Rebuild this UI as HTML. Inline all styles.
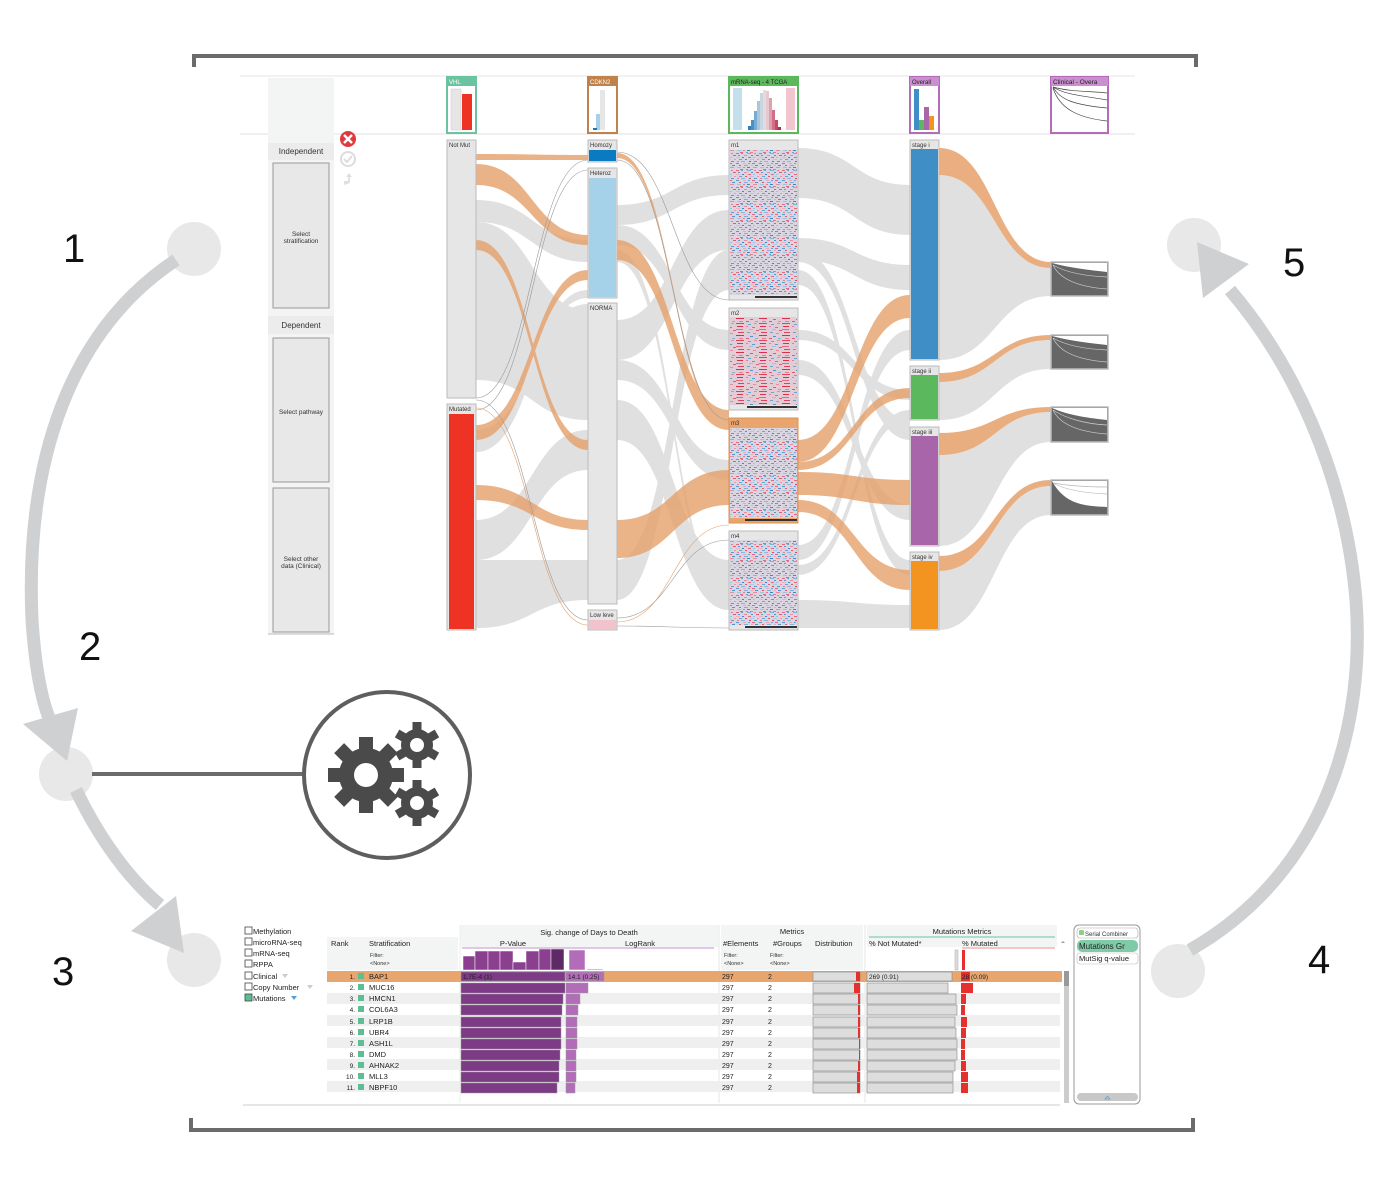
<!DOCTYPE html>
<html><head><meta charset="utf-8"><style>
html,body{margin:0;padding:0;background:#fff}
svg{display:block;font-family:"Liberation Sans",Arial,sans-serif}
</style></head><body>
<svg width="1381" height="1195" viewBox="0 0 1381 1195" xmlns="http://www.w3.org/2000/svg">
<defs>
<pattern id="hm" width="23" height="17" patternUnits="userSpaceOnUse">
<rect width="23" height="17" fill="#d9d6e2"/>
<rect x="0" y="0" width="3" height="1" fill="#e36a7e"/><rect x="5" y="0" width="2" height="1" fill="#6aa5d6"/><rect x="11" y="0" width="4" height="1" fill="#7fb2da"/><rect x="18" y="0" width="2" height="1" fill="#e77d8e"/>
<rect x="2" y="2" width="2" height="1" fill="#5a9bd0"/><rect x="8" y="2" width="3" height="1" fill="#ea8d9b"/><rect x="15" y="2" width="2" height="1" fill="#4f93cc"/><rect x="20" y="2" width="3" height="1" fill="#e05a70"/>
<rect x="0" y="4" width="4" height="1" fill="#f1b0bb"/><rect x="6" y="4" width="2" height="1" fill="#3f88c5"/><rect x="12" y="4" width="3" height="1" fill="#e36a7e"/><rect x="17" y="4" width="2" height="1" fill="#9cc3e2"/>
<rect x="3" y="6" width="3" height="1" fill="#6aa5d6"/><rect x="9" y="6" width="2" height="1" fill="#e05a70"/><rect x="14" y="6" width="4" height="1" fill="#a9cbe5"/><rect x="21" y="6" width="2" height="1" fill="#ec95a3"/>
<rect x="1" y="8" width="2" height="1" fill="#e77d8e"/><rect x="5" y="8" width="4" height="1" fill="#8ab9dd"/><rect x="13" y="8" width="2" height="1" fill="#d94a62"/><rect x="18" y="8" width="3" height="1" fill="#5a9bd0"/>
<rect x="0" y="10" width="3" height="1" fill="#5a9bd0"/><rect x="7" y="10" width="3" height="1" fill="#f0a6b2"/><rect x="12" y="10" width="2" height="1" fill="#6aa5d6"/><rect x="16" y="10" width="3" height="1" fill="#e36a7e"/>
<rect x="3" y="12" width="2" height="1" fill="#e05a70"/><rect x="8" y="12" width="4" height="1" fill="#7fb2da"/><rect x="15" y="12" width="2" height="1" fill="#f0a6b2"/><rect x="19" y="12" width="3" height="1" fill="#4f93cc"/>
<rect x="1" y="14" width="4" height="1" fill="#9cc3e2"/><rect x="7" y="14" width="2" height="1" fill="#e77d8e"/><rect x="11" y="14" width="3" height="1" fill="#3f88c5"/><rect x="17" y="14" width="4" height="1" fill="#ea8d9b"/>
<rect x="4" y="16" width="3" height="1" fill="#e36a7e"/><rect x="10" y="16" width="2" height="1" fill="#6aa5d6"/><rect x="14" y="16" width="3" height="1" fill="#e77d8e"/>
</pattern>
<pattern id="hm2" width="23" height="17" patternUnits="userSpaceOnUse">
<rect width="23" height="17" fill="#e2cdd6"/>
<rect x="0" y="0" width="8" height="1" fill="#e0415c"/><rect x="12" y="1" width="3" height="1" fill="#6aa5d6"/><rect x="18" y="0" width="3" height="1" fill="#ea8d9b"/>
<rect x="1" y="3" width="6" height="1" fill="#d9304c"/><rect x="10" y="3" width="2" height="1" fill="#e77d8e"/><rect x="16" y="4" width="3" height="1" fill="#5a9bd0"/>
<rect x="0" y="6" width="7" height="1" fill="#e36a7e"/><rect x="13" y="6" width="4" height="1" fill="#9cc3e2"/><rect x="20" y="7" width="3" height="1" fill="#e05a70"/>
<rect x="2" y="9" width="6" height="1" fill="#e0415c"/><rect x="11" y="9" width="3" height="1" fill="#6aa5d6"/><rect x="17" y="10" width="3" height="1" fill="#ea8d9b"/>
<rect x="0" y="12" width="8" height="1" fill="#d9304c"/><rect x="14" y="13" width="3" height="1" fill="#4f93cc"/>
<rect x="3" y="15" width="4" height="1" fill="#e77d8e"/><rect x="10" y="15" width="3" height="1" fill="#e05a70"/><rect x="19" y="15" width="3" height="1" fill="#7fb2da"/>
</pattern>
</defs>

<!-- brackets -->
<path d="M194,67 V56 H1196 V67" fill="none" stroke="#6b6b6b" stroke-width="4"/>
<path d="M191,1118 V1130 H1193 V1118" fill="none" stroke="#6b6b6b" stroke-width="4"/>

<!-- cycle arcs -->
<g fill="#e8e8e8">
<ellipse cx="194" cy="249" rx="27" ry="27"/>
<ellipse cx="66" cy="774" rx="27" ry="27"/>
<ellipse cx="194" cy="960" rx="27" ry="27"/>
<ellipse cx="1194" cy="245" rx="27" ry="27"/>
<ellipse cx="1178" cy="971" rx="27" ry="27"/>
</g>
<g fill="none" stroke="#cfd0d2" stroke-width="13">
<path d="M176,260 C70,330 25,460 32,620 C36,680 45,710 52,725"/>
<path d="M76,790 C100,840 130,880 160,905"/>
<path d="M1190,950 C1330,870 1365,720 1356,600 C1345,470 1290,360 1230,290"/>
</g>
<g fill="#cfd0d2">
<path d="M23,724 L78,708 L67,761 Z"/>
<path d="M131,931 L176,896 L184,953 Z"/>
<path d="M1203,298 L1249,264 L1197,242 Z"/>
</g>
<line x1="92" y1="774" x2="304" y2="774" stroke="#6b6b6b" stroke-width="4"/>
<circle cx="387" cy="775" r="83" fill="#fff" stroke="#5e5e5e" stroke-width="4"/>
<!-- gears -->
<g fill="#4a4a4a">
<g transform="translate(366,775)">
<circle r="27"/>
<g id="teeth"><rect x="-7" y="-38" width="14" height="14"/></g>
<use href="#teeth" transform="rotate(45)"/><use href="#teeth" transform="rotate(90)"/><use href="#teeth" transform="rotate(135)"/><use href="#teeth" transform="rotate(180)"/><use href="#teeth" transform="rotate(225)"/><use href="#teeth" transform="rotate(270)"/><use href="#teeth" transform="rotate(315)"/>
<circle r="12" fill="#fff"/>
</g>
<g transform="translate(417,745)">
<circle r="16"/>
<g id="t2"><rect x="-4.5" y="-23" width="9" height="9"/></g>
<use href="#t2" transform="rotate(60)"/><use href="#t2" transform="rotate(120)"/><use href="#t2" transform="rotate(180)"/><use href="#t2" transform="rotate(240)"/><use href="#t2" transform="rotate(300)"/>
<circle r="7" fill="#fff"/>
</g>
<g transform="translate(417,803)">
<circle r="16"/>
<use href="#t2"/><use href="#t2" transform="rotate(60)"/><use href="#t2" transform="rotate(120)"/><use href="#t2" transform="rotate(180)"/><use href="#t2" transform="rotate(240)"/><use href="#t2" transform="rotate(300)"/>
<circle r="7" fill="#fff"/>
</g>
</g>
<g font-size="40" fill="#111">
<text x="63" y="262">1</text><text x="79" y="660">2</text><text x="52" y="985">3</text><text x="1308" y="973">4</text><text x="1283" y="276">5</text>
</g>

<!-- ============ TOP PANEL ============ -->
<line x1="240" y1="76" x2="1135" y2="76" stroke="#e6e6e6"/>
<line x1="240" y1="134" x2="1135" y2="134" stroke="#e0e0e0"/>
<rect x="268" y="78" width="66" height="556" fill="#f3f4f4"/>
<line x1="268" y1="634" x2="334" y2="634" stroke="#bbb"/>
<rect x="268" y="143" width="66" height="17" fill="#ececec"/>
<text x="301" y="154" font-size="8" text-anchor="middle" fill="#333">Independent</text>
<rect x="273" y="163" width="56" height="145" fill="#e8e8e8" stroke="#999"/>
<text x="301" y="236" font-size="6.5" text-anchor="middle" fill="#333">Select</text>
<text x="301" y="243" font-size="6.5" text-anchor="middle" fill="#333">stratification</text>
<rect x="268" y="316" width="66" height="18" fill="#ececec"/>
<text x="301" y="328" font-size="8" text-anchor="middle" fill="#333">Dependent</text>
<rect x="273" y="338" width="56" height="144" fill="#e8e8e8" stroke="#999"/>
<text x="301" y="414" font-size="6.5" text-anchor="middle" fill="#333">Select pathway</text>
<rect x="273" y="488" width="56" height="144" fill="#e8e8e8" stroke="#999"/>
<text x="301" y="561" font-size="6.5" text-anchor="middle" fill="#333">Select other</text>
<text x="301" y="568" font-size="6.5" text-anchor="middle" fill="#333">data (Clinical)</text>
<circle cx="348" cy="139" r="8" fill="#e03a3e"/>
<path d="M344,135 L352,143 M352,135 L344,143" stroke="#fff" stroke-width="2.5"/>
<circle cx="348" cy="159" r="7" fill="none" stroke="#ddd" stroke-width="2"/>
<path d="M344,159 l3,3 l5,-6" stroke="#ddd" stroke-width="2" fill="none"/>
<path d="M344,185 v-4 h4 v-4 h-2 l3,-4 l3,4 h-2 v6 z" fill="#e0e0e0"/>

<!-- flows VHL->CDKN2 -->
<g fill="#d6d6d6" opacity="0.75">
<path d="M476,200 C532,200 532,240 588,240 L588,262 C532,262 532,222 476,222Z"/>
<path d="M476,222 C532,222 532,310 588,310 L588,420 C532,420 532,380 476,380Z"/>
<path d="M476,520 C532,520 532,430 588,430 L588,470 C532,470 532,560 476,560Z"/>
<path d="M476,560 C532,560 532,560 588,560 L588,600 C532,600 532,628 476,628Z"/>
<path d="M476,440 C532,440 532,290 588,290 L588,298 C532,298 532,452 476,452Z"/>
<path d="M476,430 C532,430 532,304 588,304 L588,316 C532,316 532,440 476,440Z"/>
</g>
<g fill="#e6a06a" opacity="0.8">
<path d="M476,154 C532,154 532,155 588,155 L588,160 C532,160 532,160 476,160Z"/>
<path d="M476,164 C532,164 532,235 588,235 L588,245 C532,245 532,185 476,185Z"/>
<path d="M476,240 C532,240 532,440 588,440 L588,450 C532,450 532,250 476,250Z"/>
<path d="M476,425 C532,425 532,270 588,270 L588,280 C532,280 532,440 476,440Z"/>
<path d="M476,485 C532,485 532,520 588,520 L588,530 C532,530 532,500 476,500Z"/>
</g>
<g stroke="#999" stroke-width="0.6" fill="none">
<path d="M476,398 C532,398 532,160 588,160"/><path d="M476,410 C532,410 532,170 588,170"/>
<path d="M476,400 C532,400 532,620 588,620"/><path d="M476,408 C532,408 532,625 588,625" stroke="#e6a06a"/>
</g>

<!-- flows CDKN2->mRNA -->
<g fill="#d6d6d6" opacity="0.75">
<path d="M617,205 C673,205 673,175 729,175 L729,195 C673,195 673,225 617,225Z"/>
<path d="M617,225 C673,225 673,330 729,330 L729,350 C673,350 673,245 617,245Z"/>
<path d="M617,320 C673,320 673,210 729,210 L729,250 C673,250 673,360 617,360Z"/>
<path d="M617,360 C673,360 673,460 729,460 L729,480 C673,480 673,380 617,380Z"/>
<path d="M617,400 C673,400 673,560 729,560 L729,610 C673,610 673,440 617,440Z"/>
<path d="M617,560 C673,560 673,250 729,250 L729,290 C673,290 673,600 617,600Z"/>
<path d="M617,250 C673,250 673,590 729,590 L729,600 C673,600 673,262 617,262Z"/>
</g>
<g fill="#e6a06a" opacity="0.8">
<path d="M617,240 C673,240 673,410 729,410 L729,430 C673,430 673,260 617,260Z"/>
<path d="M617,520 C673,520 673,470 729,470 L729,505 C673,505 673,558 617,558Z"/>
<path d="M617,153 C673,153 673,420 729,420 L729,425 C673,425 673,158 617,158Z"/>
</g>
<g stroke="#999" stroke-width="0.6" fill="none">
<path d="M617,152 C673,152 673,300 729,300"/><path d="M617,160 C673,160 673,420 729,420"/>
<path d="M617,618 C673,618 673,540 729,540"/><path d="M617,626 C673,626 673,628 729,628"/>
<path d="M617,622 C673,622 673,525 729,525" stroke="#e6a06a"/>
</g>

<!-- flows mRNA->Overall -->
<g fill="#d6d6d6" opacity="0.75">
<path d="M798,148 C854,148 854,185 910,185 L910,235 C854,235 854,198 798,198Z"/>
<path d="M798,238 C854,238 854,265 910,265 L910,290 C854,290 854,260 798,260Z"/>
<path d="M798,250 C854,250 854,420 910,420 L910,440 C854,440 854,262 798,262Z"/>
<path d="M798,270 C854,270 854,560 910,560 L910,575 C854,575 854,285 798,285Z"/>
<path d="M798,330 C854,330 854,390 910,390 L910,400 C854,400 854,340 798,340Z"/>
<path d="M798,360 C854,360 854,505 910,505 L910,520 C854,520 854,375 798,375Z"/>
<path d="M798,545 C854,545 854,330 910,330 L910,350 C854,350 854,560 798,560Z"/>
<path d="M798,565 C854,565 854,410 910,410 L910,420 C854,420 854,575 798,575Z"/>
<path d="M798,600 C854,600 854,605 910,605 L910,628 C854,628 854,628 798,628Z"/>
</g>
<g fill="#e6a06a" opacity="0.8">
<path d="M798,440 C854,440 854,295 910,295 L910,318 C854,318 854,462 798,462Z"/>
<path d="M798,462 C854,462 854,388 910,388 L910,398 C854,398 854,470 798,470Z"/>
<path d="M798,472 C854,472 854,480 910,480 L910,505 C854,505 854,495 798,495Z"/>
<path d="M798,500 C854,500 854,570 910,570 L910,590 C854,590 854,512 798,512Z"/>
</g>

<!-- flows Overall->KM -->
<g fill="#d6d6d6" opacity="0.75">
<path d="M939,175 C995,175 995,268 1051,268 L1051,296 C995,296 995,360 939,360Z"/>
<path d="M939,382 C995,382 995,340 1051,340 L1051,369 C995,369 995,420 939,420Z"/>
<path d="M939,455 C995,455 995,412 1051,412 L1051,442 C995,442 995,546 939,546Z"/>
<path d="M939,571 C995,571 995,486 1051,486 L1051,515 C995,515 995,630 939,630Z"/>
</g>
<g fill="#e6a06a" opacity="0.85">
<path d="M939,148 C995,148 995,262 1051,262 L1051,268 C995,268 995,175 939,175Z"/>
<path d="M939,373 C995,373 995,335 1051,335 L1051,340 C995,340 995,382 939,382Z"/>
<path d="M939,433 C995,433 995,407 1051,407 L1051,412 C995,412 995,455 939,455Z"/>
<path d="M939,556 C995,556 995,480 1051,480 L1051,486 C995,486 995,571 939,571Z"/>
</g>

<!-- VHL column -->
<rect x="447" y="77" width="29" height="56" fill="#fff" stroke="#6cc3a0" stroke-width="2"/>
<rect x="447" y="77" width="29" height="9" fill="#6cc3a0"/>
<text x="449" y="84" font-size="6" fill="#fff">VHL</text>
<rect x="451" y="89" width="10" height="41" fill="#e6e6e6" stroke="#ccc" stroke-width="0.5"/>
<rect x="462" y="94" width="10" height="36" fill="#ee3224"/>
<rect x="447" y="140" width="29" height="258" fill="#e6e6e6" stroke="#bbb"/>
<text x="449" y="147" font-size="6" fill="#333">Not Mut</text>
<rect x="447" y="404" width="29" height="226" fill="#e6e6e6" stroke="#bbb"/>
<text x="449" y="411" font-size="6" fill="#333">Mutated</text>
<rect x="449" y="414" width="25" height="215" fill="#ee3224"/>

<!-- CDKN2 column -->
<rect x="588" y="77" width="29" height="56" fill="#fff" stroke="#c0824a" stroke-width="2"/>
<rect x="588" y="77" width="29" height="9" fill="#c0824a"/>
<text x="590" y="84" font-size="6" fill="#fff">CDKN2</text>
<rect x="600" y="90" width="5" height="40" fill="#e6e6e6"/>
<rect x="596" y="114" width="4" height="16" fill="#a5d2e8"/>
<rect x="593" y="128" width="4" height="2" fill="#0a7bc2"/>
<rect x="588" y="140" width="29" height="22" fill="#e6e6e6" stroke="#bbb"/>
<text x="590" y="147" font-size="6" fill="#333">Homozy</text>
<rect x="589" y="150" width="27" height="11" fill="#0a7bc2"/>
<rect x="588" y="168" width="29" height="130" fill="#e6e6e6" stroke="#bbb"/>
<text x="590" y="175" font-size="6" fill="#333">Heteroz</text>
<rect x="589" y="178" width="27" height="119" fill="#a5d2e8"/>
<rect x="588" y="303" width="29" height="301" fill="#e6e6e6" stroke="#bbb"/>
<text x="590" y="310" font-size="6" fill="#333">NORMA</text>
<rect x="588" y="610" width="29" height="20" fill="#e6e6e6" stroke="#bbb"/>
<text x="590" y="617" font-size="6" fill="#333">Low leve</text>
<rect x="589" y="620" width="27" height="9" fill="#f2c3cc"/>

<!-- mRNA column -->
<rect x="729" y="77" width="69" height="56" fill="#fff" stroke="#5cb85c" stroke-width="2"/>
<rect x="729" y="77" width="69" height="9" fill="#5cb85c"/>
<text x="731" y="84" font-size="6" fill="#222">mRNA-seq - 4 TCGA</text>
<rect x="733" y="88" width="9" height="42" fill="#c5e0ed"/>
<rect x="786" y="88" width="9" height="42" fill="#f3c6cf"/>
<g>
<rect x="748" y="126" width="3" height="4" fill="#2d7fbf"/><rect x="751" y="120" width="3" height="10" fill="#4a90c8"/>
<rect x="754" y="111" width="3" height="19" fill="#79acd3"/><rect x="757" y="101" width="3" height="29" fill="#a8c6dc"/>
<rect x="760" y="93" width="3" height="37" fill="#cbd7e0"/><rect x="763" y="90" width="3" height="40" fill="#e0dde0"/>
<rect x="766" y="91" width="3" height="39" fill="#e8c8d0"/><rect x="769" y="98" width="3" height="32" fill="#dda0ad"/>
<rect x="772" y="110" width="3" height="20" fill="#d17086"/><rect x="775" y="120" width="3" height="10" fill="#c64a64"/>
<rect x="778" y="127" width="3" height="3" fill="#b62a46"/>
</g>
<rect x="729" y="140" width="69" height="160" fill="#e6e6e6" stroke="#bbb"/>
<text x="731" y="147" font-size="6" fill="#333">m1</text>
<rect x="730" y="150" width="67" height="145" fill="url(#hm)"/>
<rect x="755" y="296" width="42" height="2" fill="#333"/>
<rect x="729" y="308" width="69" height="102" fill="#e6e6e6" stroke="#bbb"/>
<text x="731" y="315" font-size="6" fill="#333">m2</text>
<rect x="730" y="317" width="67" height="88" fill="url(#hm2)"/>
<rect x="747" y="406" width="50" height="2" fill="#333"/>
<rect x="729" y="418" width="69" height="105" fill="#e8a66e" stroke="#e09050"/>
<text x="731" y="425" font-size="6" fill="#333">m3</text>
<rect x="730" y="428" width="67" height="90" fill="url(#hm)"/>
<rect x="745" y="519" width="52" height="2" fill="#333"/>
<rect x="729" y="531" width="69" height="99" fill="#e6e6e6" stroke="#bbb"/>
<text x="731" y="538" font-size="6" fill="#333">m4</text>
<rect x="730" y="540" width="67" height="85" fill="url(#hm)"/>
<rect x="745" y="626" width="52" height="2" fill="#333"/>

<!-- Overall column -->
<rect x="910" y="77" width="29" height="56" fill="#fff" stroke="#b36db8" stroke-width="2"/>
<rect x="910" y="77" width="29" height="9" fill="#c98fce"/>
<text x="912" y="84" font-size="6" fill="#222">Overall</text>
<rect x="914" y="89" width="5" height="41" fill="#3f8fc6"/>
<rect x="919" y="120" width="5" height="10" fill="#5cb85c"/>
<rect x="924" y="107" width="5" height="23" fill="#a865aa"/>
<rect x="929" y="116" width="5" height="14" fill="#f39320"/>
<rect x="910" y="140" width="29" height="220" fill="#e6e6e6" stroke="#bbb"/>
<text x="912" y="147" font-size="6" fill="#333">stage i</text>
<rect x="911" y="149" width="27" height="210" fill="#3f8fc6"/>
<rect x="910" y="366" width="29" height="54" fill="#e6e6e6" stroke="#bbb"/>
<text x="912" y="373" font-size="6" fill="#333">stage ii</text>
<rect x="911" y="375" width="27" height="44" fill="#5cb85c"/>
<rect x="910" y="427" width="29" height="119" fill="#e6e6e6" stroke="#bbb"/>
<text x="912" y="434" font-size="6" fill="#333">stage iii</text>
<rect x="911" y="436" width="27" height="109" fill="#a865aa"/>
<rect x="910" y="552" width="29" height="78" fill="#e6e6e6" stroke="#bbb"/>
<text x="912" y="559" font-size="6" fill="#333">stage iv</text>
<rect x="911" y="561" width="27" height="68" fill="#f39320"/>

<!-- KM -->
<rect x="1051" y="77" width="57" height="56" fill="#fff" stroke="#b36db8" stroke-width="2"/>
<rect x="1051" y="77" width="57" height="9" fill="#c98fce"/>
<text x="1053" y="84" font-size="6.5" fill="#222">Clinical - Overa</text>
<g fill="none" stroke="#444" stroke-width="0.7">
<path d="M1053,87 C1070,92 1090,91 1107,93"/><path d="M1053,87 C1065,95 1085,96 1107,100"/>
<path d="M1053,87 C1060,100 1075,105 1107,108"/><path d="M1053,88 C1060,110 1080,118 1107,121"/>
</g>
<g>
<rect x="1051" y="262" width="57" height="34" fill="#666" stroke="#bbb" stroke-width="1.5"/>
<path d="M1052,263 L1107,263 L1107,272 C1090,270 1070,268 1052,263Z" fill="#fff"/>
<path d="M1053,265 C1065,272 1085,276 1107,277 M1053,265 C1060,280 1080,287 1107,289" stroke="#ccc" stroke-width="0.7" fill="none"/>
<rect x="1051" y="335" width="57" height="34" fill="#666" stroke="#bbb" stroke-width="1.5"/>
<path d="M1052,336 L1107,336 L1107,345 C1090,343 1070,341 1052,336Z" fill="#fff"/>
<path d="M1053,338 C1065,345 1085,349 1107,350 M1053,338 C1060,353 1080,360 1107,362" stroke="#ccc" stroke-width="0.7" fill="none"/>
<rect x="1051" y="407" width="57" height="35" fill="#666" stroke="#bbb" stroke-width="1.5"/>
<path d="M1052,408 L1107,408 L1107,420 C1090,418 1070,416 1052,408Z" fill="#fff"/>
<path d="M1053,410 C1065,418 1085,424 1107,425 M1053,410 C1060,425 1080,432 1107,434" stroke="#ccc" stroke-width="0.7" fill="none"/>
<rect x="1051" y="480" width="57" height="35" fill="#666" stroke="#bbb" stroke-width="1.5"/>
<path d="M1052,481 L1107,481 L1107,507 C1085,506 1065,505 1052,481Z" fill="#fff"/>
<path d="M1053,483 C1070,486 1090,487 1107,487 M1053,483 C1065,490 1085,493 1107,494" stroke="#bbb" stroke-width="0.7" fill="none"/>
</g>

<!-- ============ BOTTOM TABLE ============ -->
<g font-size="7.5" fill="#222">
<g fill="#fff" stroke="#444" stroke-width="0.8">
<rect x="245" y="927" width="7" height="7"/><rect x="245" y="938" width="7" height="7"/><rect x="245" y="949" width="7" height="7"/><rect x="245" y="960" width="7" height="7"/><rect x="245" y="972" width="7" height="7"/><rect x="245" y="983" width="7" height="7"/>
<rect x="245" y="994" width="7" height="7" fill="#5cbf94"/>
</g>
<text x="253" y="934">Methylation</text><text x="253" y="945">microRNA-seq</text><text x="253" y="956">mRNA-seq</text><text x="253" y="967">RPPA</text>
<text x="253" y="979">Clinical</text><text x="253" y="990">Copy Number</text><text x="253" y="1001">Mutations</text>
<path d="M282,974 h6 l-3,4z M307,985 h6 l-3,4z" fill="#ccc"/>
<path d="M291,996 h6 l-3,4z" fill="#5aa0d8"/>
</g>
<rect x="327" y="937" width="131" height="33" fill="#f3f4f4"/>
<rect x="460" y="925" width="258" height="22" fill="#f3f4f4"/>
<rect x="721" y="925" width="142" height="45" fill="#f3f4f4"/>
<rect x="867" y="925" width="190" height="22" fill="#f3f4f4"/>
<line x1="719" y1="925" x2="719" y2="1103" stroke="#e6e6e6"/>
<line x1="865" y1="925" x2="865" y2="1103" stroke="#e6e6e6"/>
<line x1="460" y1="925" x2="460" y2="1103" stroke="#eee"/>
<line x1="243" y1="1105" x2="1060" y2="1105" stroke="#ccc"/>
<g font-size="7.5" fill="#222">
<text x="589" y="935" text-anchor="middle">Sig. change of Days to Death</text>
<text x="513" y="946" text-anchor="middle">P-Value</text><text x="640" y="946" text-anchor="middle">LogRank</text>
<text x="331" y="946">Rank</text><text x="369" y="946">Stratification</text>
<text x="792" y="934" text-anchor="middle">Metrics</text>
<text x="723" y="946">#Elements</text><text x="773" y="946">#Groups</text><text x="815" y="946">Distribution</text>
<text x="962" y="934" text-anchor="middle">Mutations Metrics</text>
<text x="869" y="946">% Not Mutated*</text><text x="962" y="946">% Mutated</text>
</g>
<g font-size="5.5" fill="#333">
<text x="370" y="957">Filter:</text><text x="370" y="965">&lt;None&gt;</text>
<text x="724" y="957">Filter:</text><text x="724" y="965">&lt;None&gt;</text>
<text x="770" y="957">Filter:</text><text x="770" y="965">&lt;None&gt;</text>
</g>
<line x1="462" y1="948" x2="714" y2="948" stroke="#c58ed0"/>
<line x1="869" y1="937" x2="1055" y2="937" stroke="#6cc3a0"/>
<line x1="962" y1="948" x2="1055" y2="948" stroke="#f28b8b"/>
<!-- histogram -->
<g fill="#8a3f8f" stroke="#fff" stroke-width="0.5">
<rect x="463" y="956" width="12" height="14"/><rect x="475" y="951" width="13" height="19"/><rect x="488" y="951" width="12" height="19"/><rect x="500" y="951" width="13" height="19"/>
<rect x="513" y="962" width="13" height="8"/><rect x="526" y="951" width="13" height="19"/><rect x="539" y="949" width="12" height="21"/>
<rect x="551" y="949" width="13" height="21" fill="#5e2a66"/>
<rect x="569" y="950" width="16" height="20" fill="#b36db8"/>
<rect x="587" y="969" width="16" height="1" fill="#b36db8"/>
</g>
<rect x="955" y="950" width="3" height="20" fill="#ddd" stroke="#aaa" stroke-width="0.5"/>
<rect x="962" y="950" width="3" height="20" fill="#e53030"/>
<!-- rows -->
<g>
<rect x="327" y="993" width="733" height="11" fill="#efefef"/>
<rect x="327" y="1015" width="733" height="11" fill="#efefef"/>
<rect x="327" y="1037" width="733" height="11" fill="#efefef"/>
<rect x="327" y="1059" width="733" height="11" fill="#efefef"/>
<rect x="327" y="1081" width="733" height="11" fill="#efefef"/>
<rect x="327" y="971" width="735" height="11" fill="#e8a66e"/>
</g>
<g font-size="7.5" fill="#222">
<text x="355" y="979" text-anchor="end" font-size="6.5">1.</text><text x="355" y="990" text-anchor="end" font-size="6.5">2.</text><text x="355" y="1001" text-anchor="end" font-size="6.5">3.</text><text x="355" y="1012" text-anchor="end" font-size="6.5">4.</text><text x="355" y="1024" text-anchor="end" font-size="6.5">5.</text><text x="355" y="1035" text-anchor="end" font-size="6.5">6.</text><text x="355" y="1046" text-anchor="end" font-size="6.5">7.</text><text x="355" y="1057" text-anchor="end" font-size="6.5">8.</text><text x="355" y="1068" text-anchor="end" font-size="6.5">9.</text><text x="355" y="1079" text-anchor="end" font-size="6.5">10.</text><text x="355" y="1090" text-anchor="end" font-size="6.5">11.</text>
<text x="369" y="979">BAP1</text><text x="369" y="990">MUC16</text><text x="369" y="1001">HMCN1</text><text x="369" y="1012">COL6A3</text><text x="369" y="1024">LRP1B</text><text x="369" y="1035">UBR4</text><text x="369" y="1046">ASH1L</text><text x="369" y="1057">DMD</text><text x="369" y="1068">AHNAK2</text><text x="369" y="1079">MLL3</text><text x="369" y="1090">NBPF10</text>
</g>
<g fill="#5cbf94">
<rect x="358" y="973" width="6" height="6"/><rect x="358" y="984" width="6" height="6"/><rect x="358" y="995" width="6" height="6"/><rect x="358" y="1006" width="6" height="6"/><rect x="358" y="1018" width="6" height="6"/><rect x="358" y="1029" width="6" height="6"/><rect x="358" y="1040" width="6" height="6"/><rect x="358" y="1051" width="6" height="6"/><rect x="358" y="1062" width="6" height="6"/><rect x="358" y="1073" width="6" height="6"/><rect x="358" y="1084" width="6" height="6"/>
</g>
<!-- pvalue bars -->
<g fill="#7d3a85" stroke="#999" stroke-width="0.5">
<rect x="461" y="972" width="104" height="9"/><rect x="461" y="983" width="104" height="10"/><rect x="461" y="994" width="102" height="10"/><rect x="461" y="1005" width="101" height="10"/><rect x="461" y="1017" width="100" height="10"/><rect x="461" y="1028" width="100" height="10"/><rect x="461" y="1039" width="100" height="10"/><rect x="461" y="1050" width="99" height="10"/><rect x="461" y="1061" width="98" height="10"/><rect x="461" y="1072" width="98" height="10"/><rect x="461" y="1083" width="96" height="10"/>
</g>
<g fill="#b36db8" stroke="#999" stroke-width="0.5">
<rect x="566" y="972" width="38" height="9"/><rect x="566" y="983" width="22" height="10"/><rect x="566" y="994" width="14" height="10"/><rect x="566" y="1005" width="12" height="10"/><rect x="566" y="1017" width="11" height="10"/><rect x="566" y="1028" width="11" height="10"/><rect x="566" y="1039" width="11" height="10"/><rect x="566" y="1050" width="10" height="10"/><rect x="566" y="1061" width="10" height="10"/><rect x="566" y="1072" width="10" height="10"/><rect x="566" y="1083" width="9" height="10"/>
</g>
<text x="463" y="979" font-size="6.5" fill="#222">1.7E-4 (1)</text>
<text x="568" y="979" font-size="6.5" fill="#222">14.1 (0.25)</text>
<g font-size="7" fill="#222">
<text x="722" y="979">297</text><text x="722" y="990">297</text><text x="722" y="1001">297</text><text x="722" y="1012">297</text><text x="722" y="1024">297</text><text x="722" y="1035">297</text><text x="722" y="1046">297</text><text x="722" y="1057">297</text><text x="722" y="1068">297</text><text x="722" y="1079">297</text><text x="722" y="1090">297</text>
<text x="768" y="979">2</text><text x="768" y="990">2</text><text x="768" y="1001">2</text><text x="768" y="1012">2</text><text x="768" y="1024">2</text><text x="768" y="1035">2</text><text x="768" y="1046">2</text><text x="768" y="1057">2</text><text x="768" y="1068">2</text><text x="768" y="1079">2</text><text x="768" y="1090">2</text>
</g>
<g fill="#ddd" stroke="#888" stroke-width="0.6">
<rect x="813" y="972" width="47" height="9"/><rect x="813" y="983" width="47" height="10"/><rect x="813" y="994" width="47" height="10"/><rect x="813" y="1005" width="47" height="10"/><rect x="813" y="1017" width="47" height="10"/><rect x="813" y="1028" width="47" height="10"/><rect x="813" y="1039" width="47" height="10"/><rect x="813" y="1050" width="47" height="10"/><rect x="813" y="1061" width="47" height="10"/><rect x="813" y="1072" width="47" height="10"/><rect x="813" y="1083" width="47" height="10"/>
</g>
<g fill="#e53030">
<rect x="856" y="972" width="4" height="9"/><rect x="854" y="983" width="6" height="10"/><rect x="858" y="994" width="2" height="10"/><rect x="858" y="1005" width="2" height="10"/><rect x="858" y="1017" width="2" height="10"/><rect x="858" y="1028" width="2" height="10"/><rect x="859" y="1039" width="1" height="10"/><rect x="859" y="1050" width="1" height="10"/><rect x="858" y="1061" width="2" height="10"/><rect x="857" y="1072" width="3" height="10"/><rect x="857" y="1083" width="3" height="10"/>
</g>
<g fill="#ddd" stroke="#888" stroke-width="0.6">
<rect x="867" y="972" width="85" height="9"/><rect x="867" y="983" width="81" height="10"/><rect x="867" y="994" width="89" height="10"/><rect x="867" y="1005" width="90" height="10"/><rect x="867" y="1017" width="88" height="10"/><rect x="867" y="1028" width="89" height="10"/><rect x="867" y="1039" width="90" height="10"/><rect x="867" y="1050" width="90" height="10"/><rect x="867" y="1061" width="88" height="10"/><rect x="867" y="1072" width="86" height="10"/><rect x="867" y="1083" width="86" height="10"/>
</g>
<g fill="#e53030">
<rect x="961" y="972" width="9" height="9"/><rect x="961" y="983" width="12" height="10"/><rect x="961" y="994" width="5" height="10"/><rect x="961" y="1005" width="4" height="10"/><rect x="961" y="1017" width="6" height="10"/><rect x="961" y="1028" width="5" height="10"/><rect x="961" y="1039" width="4" height="10"/><rect x="961" y="1050" width="4" height="10"/><rect x="961" y="1061" width="5" height="10"/><rect x="961" y="1072" width="7" height="10"/><rect x="961" y="1083" width="7" height="10"/>
</g>
<text x="869" y="979" font-size="6.5" fill="#222">269 (0.91)</text>
<text x="962" y="979" font-size="6.5" fill="#222">28 (0.09)</text>
<rect x="1064" y="971" width="5" height="132" fill="#ccc"/>
<rect x="1064" y="971" width="5" height="15" fill="#999"/>
<path d="M1061,943 l2,-2 l2,2z" fill="#999"/>
<!-- right panel -->
<rect x="1074" y="925" width="66" height="179" rx="5" fill="#fff" stroke="#999"/>
<rect x="1077" y="928" width="61" height="10" rx="3" fill="#fff" stroke="#aaa" stroke-width="0.6"/>
<rect x="1079" y="930" width="5" height="5" rx="1" fill="#8fd07f"/>
<text x="1085" y="936" font-size="6" fill="#333">Serial Combiner</text>
<rect x="1077" y="940" width="61" height="12" rx="5" fill="#7fcba8"/>
<text x="1079" y="949" font-size="8" fill="#222">Mutations Gr</text>
<rect x="1077" y="953" width="61" height="11" rx="3" fill="#fff" stroke="#bbb" stroke-width="0.6"/>
<text x="1079" y="961" font-size="7.5" fill="#222">MutSig q-value</text>
<rect x="1077" y="1093" width="61" height="8" rx="4" fill="#c8c8c8"/>
<path d="M1105,1099 l2.5,-3 l2.5,3z" fill="none" stroke="#5aa0d8" stroke-width="0.7"/>
</svg>
</body></html>
